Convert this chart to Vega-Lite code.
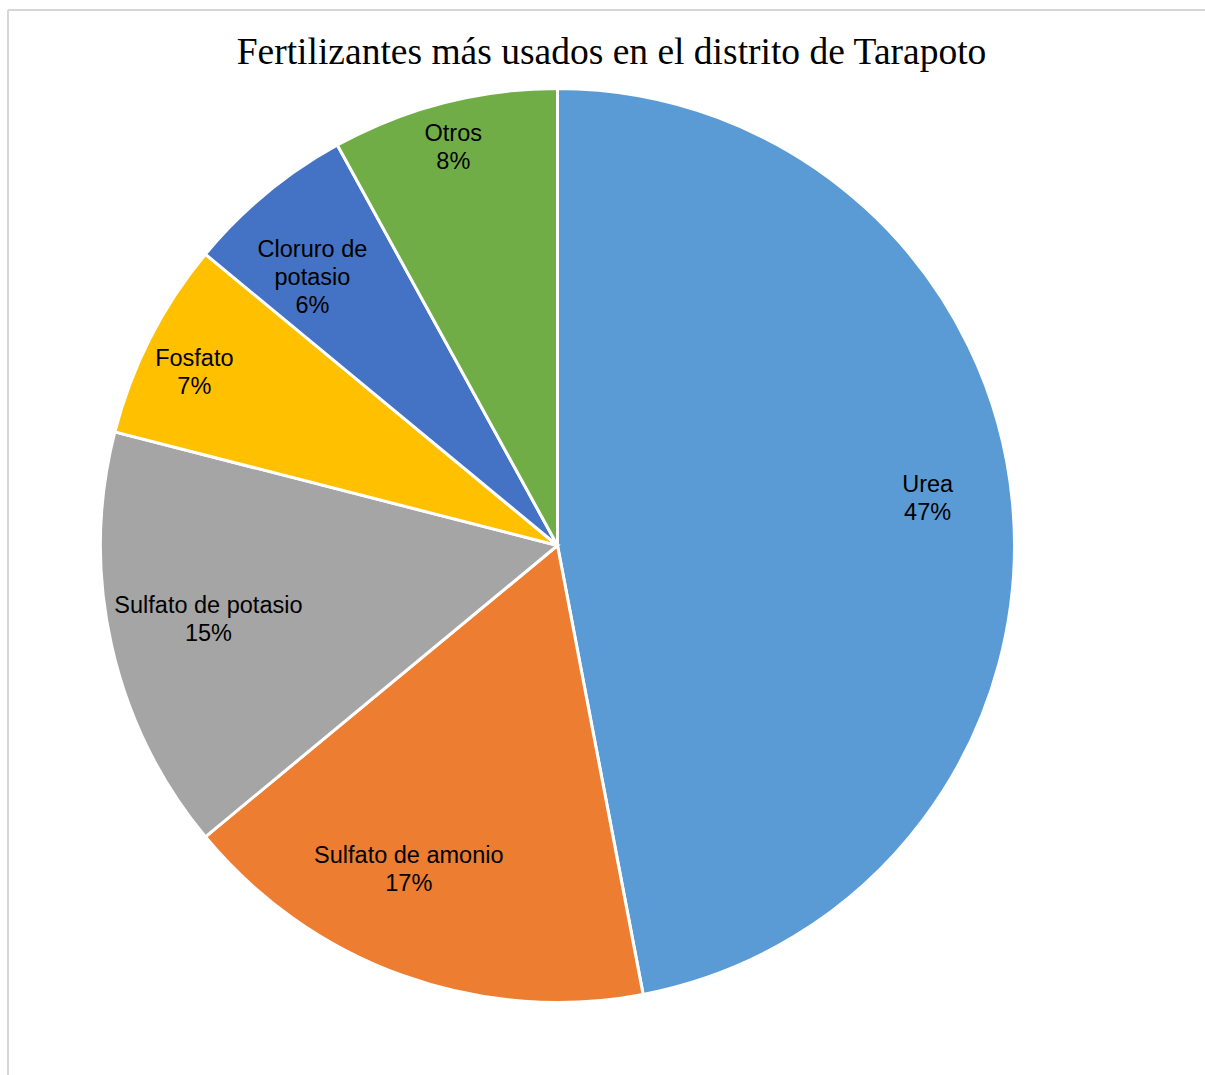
{
  "$schema": "https://vega.github.io/schema/vega-lite/v6.json",
  "autosize": "none",
  "width": 1197,
  "height": 1065,
  "padding": {"left": 8, "top": 10, "right": 0, "bottom": 0},
  "background": "white",
  "view": {"stroke": "#D6D6D6", "strokeWidth": 2, "strokeDash": [1197, 2262, 1065, 0]},
  "title": {
    "text": "Fertilizantes más usados en el distrito de Tarapoto",
    "font": "Liberation Serif",
    "fontSize": 37.5,
    "fontWeight": "normal",
    "color": "#000000",
    "anchor": "middle",
    "baseline": "alphabetic",
    "offset": -91,
    "dx": 5
  },
  "data": {
    "values": [
      {"fertilizante": "Urea", "valor": 47, "orden": 1, "etiqueta": "Urea\n47%"},
      {"fertilizante": "Sulfato de amonio", "valor": 17, "orden": 2, "etiqueta": "Sulfato de amonio\n17%"},
      {"fertilizante": "Sulfato de potasio", "valor": 15, "orden": 3, "etiqueta": "Sulfato de potasio\n15%"},
      {"fertilizante": "Fosfato", "valor": 7, "orden": 4, "etiqueta": "Fosfato\n7%"},
      {"fertilizante": "Cloruro de potasio", "valor": 6, "orden": 5, "etiqueta": "Cloruro de\npotasio\n6%"},
      {"fertilizante": "Otros", "valor": 8, "orden": 6, "etiqueta": "Otros\n8%"}
    ]
  },
  "encoding": {
    "theta": {"field": "valor", "type": "quantitative", "stack": true},
    "order": {"field": "orden", "type": "quantitative"}
  },
  "layer": [
    {
      "mark": {"type": "arc", "outerRadius": 457, "stroke": "#FFFFFF", "strokeWidth": 3, "xOffset": -49, "yOffset": 3},
      "encoding": {
        "color": {
          "field": "fertilizante",
          "type": "nominal",
          "scale": {
            "domain": ["Urea", "Sulfato de amonio", "Sulfato de potasio", "Fosfato", "Cloruro de potasio", "Otros"],
            "range": ["#5B9BD5", "#ED7D31", "#A5A5A5", "#FFC000", "#4472C4", "#70AD47"]
          },
          "legend": null
        }
      }
    },
    {
      "mark": {"type": "text", "radius": 373, "thetaOffset": -0.03, "xOffset": -49, "yOffset": -11, "font": "Liberation Sans", "fontSize": 23.5, "lineHeight": 28, "lineBreak": "\n", "fill": "#000000", "align": "center", "baseline": "middle"},
      "encoding": {
        "detail": {"field": "fertilizante", "type": "nominal"},
        "text": {"condition": {"test": "datum.fertilizante === 'Urea'", "field": "etiqueta"}, "value": ""}
      }
    },
    {
      "mark": {"type": "text", "radius": 357, "thetaOffset": 0.084, "xOffset": -49, "yOffset": -11, "font": "Liberation Sans", "fontSize": 23.5, "lineHeight": 28, "lineBreak": "\n", "fill": "#000000", "align": "center", "baseline": "middle"},
      "encoding": {
        "detail": {"field": "fertilizante", "type": "nominal"},
        "text": {"condition": {"test": "datum.fertilizante === 'Sulfato de amonio'", "field": "etiqueta"}, "value": ""}
      }
    },
    {
      "mark": {"type": "text", "radius": 357, "thetaOffset": 0.009, "xOffset": -49, "yOffset": -11, "font": "Liberation Sans", "fontSize": 23.5, "lineHeight": 28, "lineBreak": "\n", "fill": "#000000", "align": "center", "baseline": "middle"},
      "encoding": {
        "detail": {"field": "fertilizante", "type": "nominal"},
        "text": {"condition": {"test": "datum.fertilizante === 'Sulfato de potasio'", "field": "etiqueta"}, "value": ""}
      }
    },
    {
      "mark": {"type": "text", "radius": 402, "thetaOffset": -0.028, "xOffset": -49, "yOffset": -11, "font": "Liberation Sans", "fontSize": 23.5, "lineHeight": 28, "lineBreak": "\n", "fill": "#000000", "align": "center", "baseline": "middle"},
      "encoding": {
        "detail": {"field": "fertilizante", "type": "nominal"},
        "text": {"condition": {"test": "datum.fertilizante === 'Fosfato'", "field": "etiqueta"}, "value": ""}
      }
    },
    {
      "mark": {"type": "text", "radius": 363, "thetaOffset": -0.05, "xOffset": -49, "yOffset": -25, "font": "Liberation Sans", "fontSize": 23.5, "lineHeight": 28, "lineBreak": "\n", "fill": "#000000", "align": "center", "baseline": "middle"},
      "encoding": {
        "detail": {"field": "fertilizante", "type": "nominal"},
        "text": {"condition": {"test": "datum.fertilizante === 'Cloruro de potasio'", "field": "etiqueta"}, "value": ""}
      }
    },
    {
      "mark": {"type": "text", "radius": 411, "thetaOffset": -0.005, "xOffset": -49, "yOffset": -11, "font": "Liberation Sans", "fontSize": 23.5, "lineHeight": 28, "lineBreak": "\n", "fill": "#000000", "align": "center", "baseline": "middle"},
      "encoding": {
        "detail": {"field": "fertilizante", "type": "nominal"},
        "text": {"condition": {"test": "datum.fertilizante === 'Otros'", "field": "etiqueta"}, "value": ""}
      }
    }
  ]
}
